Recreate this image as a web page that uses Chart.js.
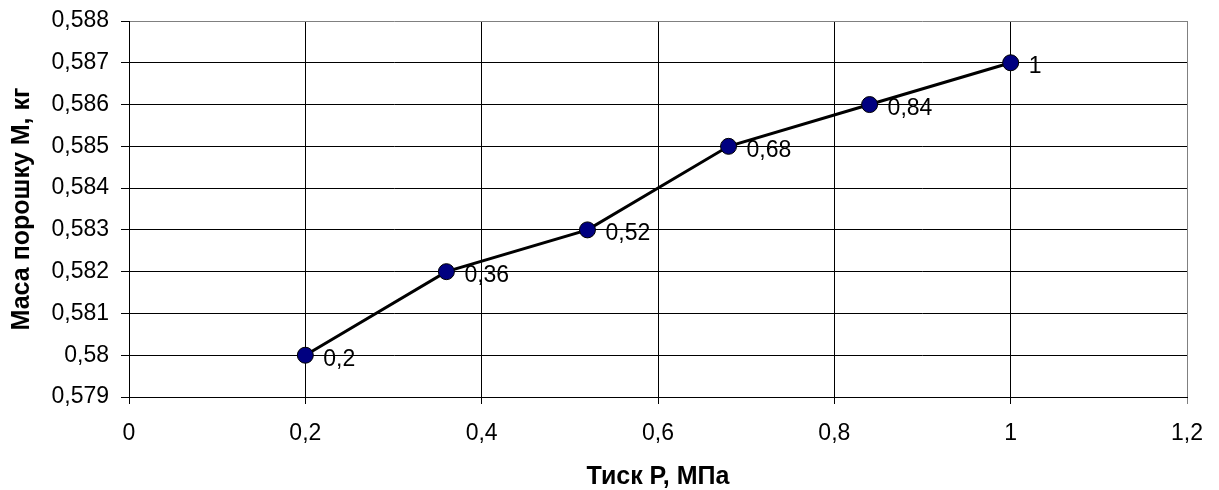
<!DOCTYPE html>
<html>
<head>
<meta charset="utf-8">
<script src="https://cdn.jsdelivr.net/npm/chart.js@4/dist/chart.umd.min.js"></script>
<style>
  html, body { margin: 0; padding: 0; background: #fff; }
  #wrap { width: 1219px; height: 490px; }
</style>
</head>
<body>
<div id="wrap"><canvas id="chart"></canvas></div>
<script>
// values
const pressure = [0.2, 0.36, 0.52, 0.68, 0.84, 1];
const powderMass = [0.580, 0.582, 0.583, 0.585, 0.586, 0.587];
const pointLabels = ['0,2', '0,36', '0,52', '0,68', '0,84', '1'];

const xTitle = 'Тиск Р, МПа';
const yTitle = 'Маса порошку М, кг';

const FONT = '"Liberation Sans", Arial, sans-serif';
const SIZE = 23;
const TITLE_SIZE = 25;

const comma = (v, d) => String(Number(v.toFixed(d))).replace('.', ',');

// labels next to each point
const pointLabelPlugin = {
    id: 'pointLabels',
    afterDatasetsDraw(chart) {
        const meta = chart.getDatasetMeta(0);
        const ctx = chart.ctx;
        ctx.save();
        ctx.font = SIZE + 'px ' + FONT;
        ctx.fillStyle = '#000';
        ctx.textAlign = 'left';
        ctx.textBaseline = 'middle';
        meta.data.forEach((pt, i) => {
            ctx.fillText(pointLabels[i], pt.x + 18, pt.y + 4);
        });
        ctx.restore();
    }
};

const data = pressure.map((p, i) => ({ x: p, y: powderMass[i] }));

new Chart(document.getElementById('chart'), {
    type: 'line',
    data: {
        datasets: [{
            data: data,
            borderColor: '#000',
            borderWidth: 3,
            pointRadius: 8,
            pointHoverRadius: 8,
            pointBackgroundColor: '#000080',
            pointBorderColor: '#000',
            pointBorderWidth: 1,
            tension: 0,
            fill: false
        }]
    },
    options: {
        responsive: true,
        maintainAspectRatio: false,
        animation: false,
        layout: { padding: { top: 21, right: 32, left: 0, bottom: 0 } },
        plugins: {
            legend: { display: false },
            tooltip: { enabled: false }
        },
        scales: {
            x: {
                type: 'linear',
                min: 0,
                max: 1.2,
                afterFit: s => { s.height = 93; },
                ticks: {
                    stepSize: 0.2,
                    padding: 16,
                    color: '#000',
                    font: { family: FONT, size: SIZE },
                    callback: v => comma(v, 2)
                },
                grid: {
                    color: c => (c.tick && c.tick.value >= 1.2 - 1e-9) ? '#808080' : '#000',
                    lineWidth: 1,
                    tickLength: 7
                },
                border: { color: '#000', width: 1 },
                title: {
                    display: true,
                    text: xTitle,
                    color: '#000',
                    padding: { top: 0, bottom: -2 },
                    font: { family: FONT, size: TITLE_SIZE, weight: 'bold' }
                }
            },
            y: {
                min: 0.579,
                max: 0.588,
                afterFit: s => {
                    s.width = 129;
                    s.paddingTop = 0;
                    s.paddingBottom = 0;
                },
                ticks: {
                    stepSize: 0.001,
                    padding: 12,
                    color: '#000',
                    font: { family: FONT, size: SIZE, lineHeight: 1 },
                    callback: v => comma(v, 3)
                },
                grid: {
                    color: c => (c.tick && c.tick.value >= 0.588 - 1e-9) ? '#808080' : '#000',
                    tickColor: '#000',
                    lineWidth: 1,
                    tickLength: 8
                },
                border: { color: '#000', width: 1 },
                title: {
                    display: true,
                    text: yTitle,
                    color: '#000',
                    padding: { top: 7, bottom: 0 },
                    font: { family: FONT, size: TITLE_SIZE, weight: 'bold' }
                }
            }
        }
    },
    plugins: [pointLabelPlugin]
});
</script>
</body>
</html>
